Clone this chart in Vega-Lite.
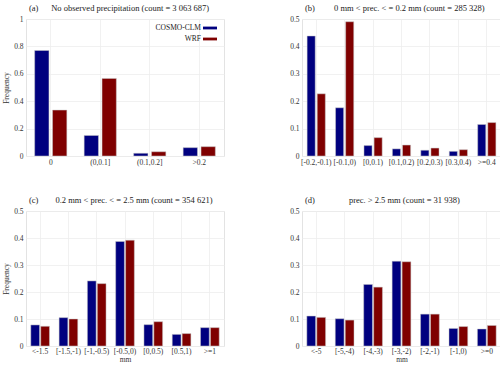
{
  "$schema": "https://vega.github.io/schema/vega-lite/v6.json",
  "padding": {"left": 2, "top": 3, "right": 2, "bottom": 0},
  "config": {
    "font": "Liberation Serif",
    "view": {"stroke": "#e3e3e3", "strokeWidth": 1},
    "axis": {"labelFont": "Liberation Serif", "labelFontSize": 7.5, "labelColor": "#333", "domain": false, "ticks": false, "gridColor": "#eeeeee", "gridWidth": 0.8, "labelPadding": 3, "titleFont": "Liberation Serif", "titleFontSize": 7.5, "titleFontWeight": "normal", "titleColor": "#333", "titlePadding": 3},
    "axisX": {"labelPadding": 2},
    "title": {"font": "Liberation Serif", "fontSize": 8.5, "fontWeight": "normal", "anchor": "start", "color": "#222", "offset": 3, "frame": "group", "dx": 3},
    "legend": {"labelFont": "Liberation Serif"}
  },
  "datasets": {
    "a": [
      {"bin": "0", "model": "COSMO-CLM", "freq": 0.77},
      {"bin": "0", "model": "WRF", "freq": 0.335},
      {"bin": "(0,0.1]", "model": "COSMO-CLM", "freq": 0.15},
      {"bin": "(0,0.1]", "model": "WRF", "freq": 0.566},
      {"bin": "(0.1,0.2]", "model": "COSMO-CLM", "freq": 0.02},
      {"bin": "(0.1,0.2]", "model": "WRF", "freq": 0.031},
      {"bin": ">0.2", "model": "COSMO-CLM", "freq": 0.061},
      {"bin": ">0.2", "model": "WRF", "freq": 0.068}
    ],
    "b": [
      {"bin": "[-0.2,-0.1)", "model": "COSMO-CLM", "freq": 0.438},
      {"bin": "[-0.2,-0.1)", "model": "WRF", "freq": 0.227},
      {"bin": "[-0.1,0)", "model": "COSMO-CLM", "freq": 0.176},
      {"bin": "[-0.1,0)", "model": "WRF", "freq": 0.49},
      {"bin": "[0,0.1)", "model": "COSMO-CLM", "freq": 0.038},
      {"bin": "[0,0.1)", "model": "WRF", "freq": 0.067},
      {"bin": "[0.1,0.2)", "model": "COSMO-CLM", "freq": 0.026},
      {"bin": "[0.1,0.2)", "model": "WRF", "freq": 0.04},
      {"bin": "[0.2,0.3)", "model": "COSMO-CLM", "freq": 0.021},
      {"bin": "[0.2,0.3)", "model": "WRF", "freq": 0.029},
      {"bin": "[0.3,0.4)", "model": "COSMO-CLM", "freq": 0.017},
      {"bin": "[0.3,0.4)", "model": "WRF", "freq": 0.023},
      {"bin": ">=0.4", "model": "COSMO-CLM", "freq": 0.115},
      {"bin": ">=0.4", "model": "WRF", "freq": 0.122}
    ],
    "c": [
      {"bin": "<-1.5", "model": "COSMO-CLM", "freq": 0.078},
      {"bin": "<-1.5", "model": "WRF", "freq": 0.073},
      {"bin": "[-1.5,-1)", "model": "COSMO-CLM", "freq": 0.105},
      {"bin": "[-1.5,-1)", "model": "WRF", "freq": 0.1},
      {"bin": "[-1,-0.5)", "model": "COSMO-CLM", "freq": 0.241},
      {"bin": "[-1,-0.5)", "model": "WRF", "freq": 0.231},
      {"bin": "[-0.5,0)", "model": "COSMO-CLM", "freq": 0.387},
      {"bin": "[-0.5,0)", "model": "WRF", "freq": 0.392},
      {"bin": "[0,0.5)", "model": "COSMO-CLM", "freq": 0.079},
      {"bin": "[0,0.5)", "model": "WRF", "freq": 0.09},
      {"bin": "[0.5,1)", "model": "COSMO-CLM", "freq": 0.043},
      {"bin": "[0.5,1)", "model": "WRF", "freq": 0.046},
      {"bin": ">=1", "model": "COSMO-CLM", "freq": 0.068},
      {"bin": ">=1", "model": "WRF", "freq": 0.068}
    ],
    "d": [
      {"bin": "<-5", "model": "COSMO-CLM", "freq": 0.111},
      {"bin": "<-5", "model": "WRF", "freq": 0.106},
      {"bin": "[-5,-4)", "model": "COSMO-CLM", "freq": 0.101},
      {"bin": "[-5,-4)", "model": "WRF", "freq": 0.096},
      {"bin": "[-4,-3)", "model": "COSMO-CLM", "freq": 0.228},
      {"bin": "[-4,-3)", "model": "WRF", "freq": 0.218},
      {"bin": "[-3,-2)", "model": "COSMO-CLM", "freq": 0.314},
      {"bin": "[-3,-2)", "model": "WRF", "freq": 0.312},
      {"bin": "[-2,-1)", "model": "COSMO-CLM", "freq": 0.118},
      {"bin": "[-2,-1)", "model": "WRF", "freq": 0.118},
      {"bin": "[-1,0)", "model": "COSMO-CLM", "freq": 0.065},
      {"bin": "[-1,0)", "model": "WRF", "freq": 0.072},
      {"bin": ">=0", "model": "COSMO-CLM", "freq": 0.063},
      {"bin": ">=0", "model": "WRF", "freq": 0.076}
    ]
  },
  "columns": 2,
  "spacing": {"row": 29, "column": 64},
  "resolve": {"scale": {"color": "independent", "y": "independent", "x": "independent", "xOffset": "independent"}},
  "concat": [
    {
      "width": 198, "height": 137,
      "title": {"text": "(a)\u00a0\u00a0\u00a0\u00a0\u00a0\u00a0No observed precipitation (count = 3 063 687)"},
      "data": {"name": "a"},
      "mark": {"type": "bar", "stroke": "#c8c8c8", "strokeWidth": 0.5},
      "encoding": {
        "x": {"field": "bin", "type": "nominal", "sort": ["0", "(0,0.1]", "(0.1,0.2]", ">0.2"], "scale": {"paddingInner": 0.35, "paddingOuter": 0.175}, "axis": {"title": null, "labelAngle": 0, "grid": true}},
        "xOffset": {"field": "model", "type": "nominal", "sort": ["COSMO-CLM", "WRF"], "scale": {"paddingInner": 0.2, "paddingOuter": 0}},
        "y": {"field": "freq", "type": "quantitative", "scale": {"domain": [0, 1]}, "axis": {"title": "Frequency", "values": [0, 0.2, 0.4, 0.6, 0.8, 1], "format": "~g"}},
        "color": {"field": "model", "type": "nominal", "scale": {"domain": ["COSMO-CLM", "WRF"], "range": ["#00007f", "#7f0000"]},
          "legend": {"orient": "none", "legendX": 177, "legendY": 2, "title": null, "symbolType": "M-1,-0.2H1V0.2H-1Z", "symbolSize": 196, "symbolStrokeWidth": 0, "labelAlign": "right", "labelOffset": -16, "labelFontSize": 7.5, "labelColor": "#222", "rowPadding": -2, "padding": 0}}
      }
    },
    {
      "width": 199, "height": 137,
      "title": {"text": "(b)\u00a0\u00a0\u00a0\u00a0\u00a0\u00a0\u00a0\u00a0\u00a00 mm < prec. < = 0.2 mm (count = 285 328)"},
      "data": {"name": "b"},
      "mark": {"type": "bar", "stroke": "#c8c8c8", "strokeWidth": 0.5},
      "encoding": {
        "x": {"field": "bin", "type": "nominal", "sort": ["[-0.2,-0.1)", "[-0.1,0)", "[0,0.1)", "[0.1,0.2)", "[0.2,0.3)", "[0.3,0.4)", ">=0.4"], "scale": {"paddingInner": 0.36, "paddingOuter": 0.18}, "axis": {"title": null, "labelAngle": 0, "grid": true}},
        "xOffset": {"field": "model", "type": "nominal", "sort": ["COSMO-CLM", "WRF"], "scale": {"paddingInner": 0.2, "paddingOuter": 0}},
        "y": {"field": "freq", "type": "quantitative", "scale": {"domain": [0, 0.5]}, "axis": {"title": null, "values": [0, 0.1, 0.2, 0.3, 0.4, 0.5], "format": "~g"}},
        "color": {"field": "model", "type": "nominal", "scale": {"domain": ["COSMO-CLM", "WRF"], "range": ["#00007f", "#7f0000"]}, "legend": null}
      }
    },
    {
      "width": 198, "height": 135,
      "title": {"text": "(c)\u00a0\u00a0\u00a0\u00a0\u00a0\u00a0\u00a0\u00a00.2 mm < prec. < = 2.5 mm (count = 354 621)"},
      "data": {"name": "c"},
      "mark": {"type": "bar", "stroke": "#c8c8c8", "strokeWidth": 0.5},
      "encoding": {
        "x": {"field": "bin", "type": "nominal", "sort": ["<-1.5", "[-1.5,-1)", "[-1,-0.5)", "[-0.5,0)", "[0,0.5)", "[0.5,1)", ">=1"], "scale": {"paddingInner": 0.34, "paddingOuter": 0.17}, "axis": {"title": "mm", "labelAngle": 0, "grid": true, "titlePadding": 1, "labelPadding": 1}},
        "xOffset": {"field": "model", "type": "nominal", "sort": ["COSMO-CLM", "WRF"], "scale": {"paddingInner": 0.12, "paddingOuter": 0}},
        "y": {"field": "freq", "type": "quantitative", "scale": {"domain": [0, 0.5]}, "axis": {"title": "Frequency", "values": [0, 0.1, 0.2, 0.3, 0.4, 0.5], "format": "~g"}},
        "color": {"field": "model", "type": "nominal", "scale": {"domain": ["COSMO-CLM", "WRF"], "range": ["#00007f", "#7f0000"]}, "legend": null}
      }
    },
    {
      "width": 199, "height": 135,
      "title": {"text": "(d)\u00a0\u00a0\u00a0\u00a0\u00a0\u00a0\u00a0\u00a0\u00a0\u00a0\u00a0\u00a0\u00a0\u00a0\u00a0\u00a0prec. > 2.5 mm (count = 31 938)"},
      "data": {"name": "d"},
      "mark": {"type": "bar", "stroke": "#c8c8c8", "strokeWidth": 0.5},
      "encoding": {
        "x": {"field": "bin", "type": "nominal", "sort": ["<-5", "[-5,-4)", "[-4,-3)", "[-3,-2)", "[-2,-1)", "[-1,0)", ">=0"], "scale": {"paddingInner": 0.34, "paddingOuter": 0.17}, "axis": {"title": "mm", "labelAngle": 0, "grid": true, "titlePadding": 1, "labelPadding": 1}},
        "xOffset": {"field": "model", "type": "nominal", "sort": ["COSMO-CLM", "WRF"], "scale": {"paddingInner": 0.12, "paddingOuter": 0}},
        "y": {"field": "freq", "type": "quantitative", "scale": {"domain": [0, 0.5]}, "axis": {"title": null, "values": [0, 0.1, 0.2, 0.3, 0.4, 0.5], "format": "~g"}},
        "color": {"field": "model", "type": "nominal", "scale": {"domain": ["COSMO-CLM", "WRF"], "range": ["#00007f", "#7f0000"]}, "legend": null}
      }
    }
  ]
}
